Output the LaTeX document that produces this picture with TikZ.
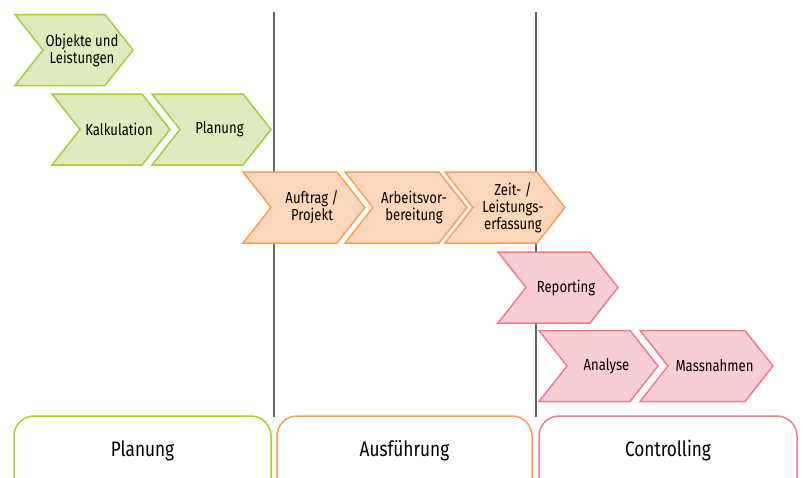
\documentclass[tikz,border=0pt]{standalone}
\usepackage{fontspec}
\setmainfont[FakeStretch=0.82]{Fira Sans}

\definecolor{gruenRand}{HTML}{A6CC3A}
\definecolor{gruenFuell}{HTML}{DFEBBF}
\definecolor{orangeRand}{HTML}{F5A056}
\definecolor{orangeFuell}{HTML}{FDD7BB}
\definecolor{rosaRand}{HTML}{EF7A8E}
\definecolor{rosaFuell}{HTML}{F9CED3}

% Pfeil: Name, x links, y Mitte, Breite, Stil, Text
\newcommand{\pfeil}[6]{%
  \draw[#5] (#2,#3-35.5) -- ++(#4-28,0) -- ++(28,35.5) -- ++(-28,35.5)
    -- ++(28-#4,0) -- ++(28,-35.5) -- cycle;
  \node[align=center] (#1) at (#2+#4/2+8,#3) {#6};
}

\begin{document}
\begin{tikzpicture}[x=1pt,y=-1pt,font=\fontsize{16}{17}\selectfont]

    % Stile fuer die Phasen
    \tikzset{
      plan/.style={draw=gruenRand,fill=gruenFuell,line width=1.5pt,line join=miter},
      ausf/.style={draw=orangeRand,fill=orangeFuell,line width=1.5pt,line join=miter},
      ctrl/.style={draw=rosaRand,fill=rosaFuell,line width=1.5pt,line join=miter},
      phase/.style={line width=1.5pt,rounded corners=20pt,fill=white},
      trenner/.style={draw=black!60,line width=1.2pt}
    }

    % Rahmen des Bildes
    \useasboundingbox (0,0) rectangle (803,477);
    \clip (0,0) rectangle (803,477);

    % Trennlinien zwischen den Phasen
    \coordinate (t1o) at (274,12);
    \coordinate (t1u) at (274,417);
    \coordinate (t2o) at (536,12);
    \coordinate (t2u) at (536,417);
    \draw[trenner] (t1o) -- (t1u);
    \draw[trenner] (t2o) -- (t2u);

    % Pfeile der Prozessschritte
    \foreach \nm/\x/\y/\b/\st/\txt in {
        objekte/15/50/118/plan/{Objekte und\\Leistungen},
        kalk/52/129.5/118/plan/{Kalkulation},
        planung/152/129.5/119/plan/{Planung},
        auftrag/243/207.5/122/ausf/{Auftrag /\\Projekt},
        arbeit/345/207.5/122/ausf/{Arbeitsvor-\\bereitung},
        zeit/445/207.5/120/ausf/{Zeit- /\\Leistungs-\\erfassung},
        report/498/287.5/120/ctrl/{Reporting},
        analyse/539/366/119/ctrl/{Analyse},
        mass/640/366/133/ctrl/{Massnahmen}}
      {\pfeil{\nm}{\x}{\y}{\b}{\st}{\txt}}

    % Phasen unten
    \draw[phase,draw=gruenRand] (14,416) rectangle (271,520);
    \draw[phase,draw=orangeRand] (277,416) rectangle (532,520);
    \draw[phase,draw=rosaRand] (539,416) rectangle (797,520);
    \node[font=\fontsize{21}{22}\selectfont] (pPlan) at (142.5,451) {Planung};
    \node[font=\fontsize{21}{22}\selectfont] (pAusf) at (404.5,451) {Ausführung};
    \node[font=\fontsize{21}{22}\selectfont] (pCtrl) at (668,451) {Controlling};

\end{tikzpicture}
\end{document}
